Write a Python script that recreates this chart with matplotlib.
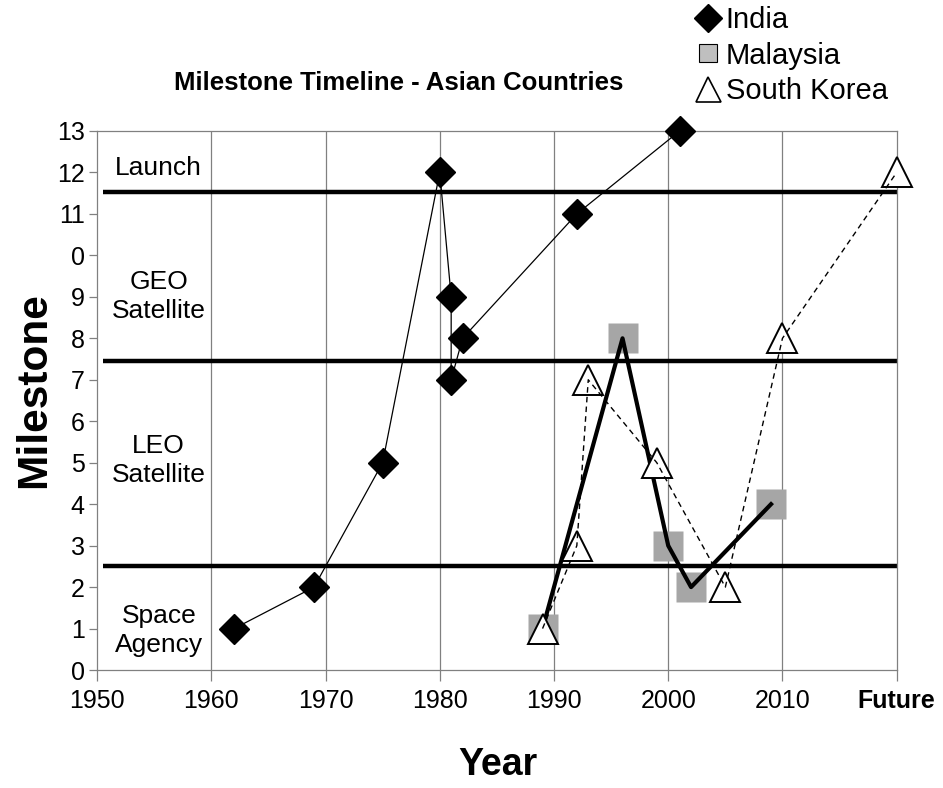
import matplotlib.pyplot as plt
from matplotlib.lines import Line2D

plt.rcParams['font.family'] = ['Liberation Sans', 'DejaVu Sans']

# data
india_year = [1962, 1969, 1975, 1980, 1981, 1981, 1982, 1992, 2001]
india_ms = [1, 2, 5, 12, 9, 7, 8, 11, 13]

malaysia_year = [1989, 1996, 2000, 2002, 2009]
malaysia_ms = [1, 8, 3, 2, 4]

korea_year = [1989, 1992, 1993, 1999, 2005, 2010, 2020]
korea_ms = [1, 3, 7, 5, 2, 8, 12]

x_ticks = [1950, 1960, 1970, 1980, 1990, 2000, 2010, 2020]
x_labels = ['1950', '1960', '1970', '1980', '1990', '2000', '2010', 'Future']
y_ticks = list(range(14))
y_labels = ['0', '1', '2', '3', '4', '5', '6', '7', '8', '9', '0', '11', '12', '13']

bounds = [2.5, 7.45, 11.52]
phases = ['Space\nAgency', 'LEO\nSatellite', 'GEO\nSatellite', 'Launch']
phase_y = [0.96, 5.05, 9.0, 12.1]

fig = plt.figure(figsize=(9.43, 7.88), dpi=100)
ax = fig.add_axes([0.1029, 0.1497, 0.848, 0.6841])

ax.set_xlim(1950, 2020)
ax.set_ylim(0, 13)

for x in x_ticks[1:-1]:
    ax.axvline(x, color='#808080', lw=0.9, zorder=1)
for b in bounds:
    ax.plot([1950.5, 2020], [b, b], color='black', lw=3.2, zorder=2, solid_capstyle='butt')

ax.plot(india_year, india_ms, color='black', lw=0.9, zorder=3)
ax.plot(malaysia_year, malaysia_ms, color='black', lw=3.0, zorder=3)
ax.plot(korea_year, korea_ms, color='black', lw=1.0, ls=(0, (4, 3)), zorder=4)

ax.plot(malaysia_year, malaysia_ms, ls='none', marker='s', ms=22,
        mfc='#a6a6a6', mec='none', zorder=2.5, clip_on=False)
ax.plot(india_year, india_ms, ls='none', marker='D', ms=15,
        mfc='black', mec='black', zorder=5, clip_on=False)
ax.plot(korea_year, korea_ms, ls='none', marker='^', ms=21,
        mfc='white', mec='black', mew=1.4, zorder=3.5, clip_on=False)

for lab, yy in zip(phases, phase_y):
    ax.text(1955.4, yy, lab, ha='center', va='center', fontsize=19,
            linespacing=1.25, zorder=6)

for s in ax.spines.values():
    s.set_color('#808080')
    s.set_linewidth(0.9)

ax.set_xticks(x_ticks)
ax.set_xticklabels(x_labels)
ax.tick_params(axis='x', labelsize=18, length=8, width=0.9, color='#808080', pad=6)
ax.get_xticklabels()[-1].set_fontweight('bold')
ax.get_xticklabels()[-1].set_fontsize(18)
ax.set_yticks(y_ticks)
ax.set_yticklabels(y_labels)
ax.tick_params(axis='y', labelsize=18, length=6, width=0.9, color='#808080', pad=3)

ax.set_xlabel('Year', fontsize=27, fontweight='bold')
ax.xaxis.set_label_coords(0.501, -0.143)
ax.set_ylabel('Milestone', fontsize=30.5, fontweight='bold')
ax.yaxis.set_label_coords(-0.054, 0.519)

fig.text(0.423, 0.895, 'Milestone Timeline - Asian Countries', ha='center',
         va='center', fontsize=18.5, fontweight='bold')

handles = [
    Line2D([], [], ls='none', marker='D', ms=14, mfc='black', mec='black'),
    Line2D([], [], ls='none', marker='s', ms=13, mfc='#bfbfbf', mec='black', mew=0.8),
    Line2D([], [], ls='none', marker='^', ms=18, mfc='white', mec='black', mew=1.2),
]
fig.legend(handles, ['India', 'Malaysia', 'South Korea'], loc='upper left',
           bbox_to_anchor=(0.714, 1.022), frameon=False, fontsize=21,
           handlelength=0.8, handletextpad=0.2, labelspacing=0.26,
           borderpad=0.3)

fig.savefig('out.png', dpi=100)
